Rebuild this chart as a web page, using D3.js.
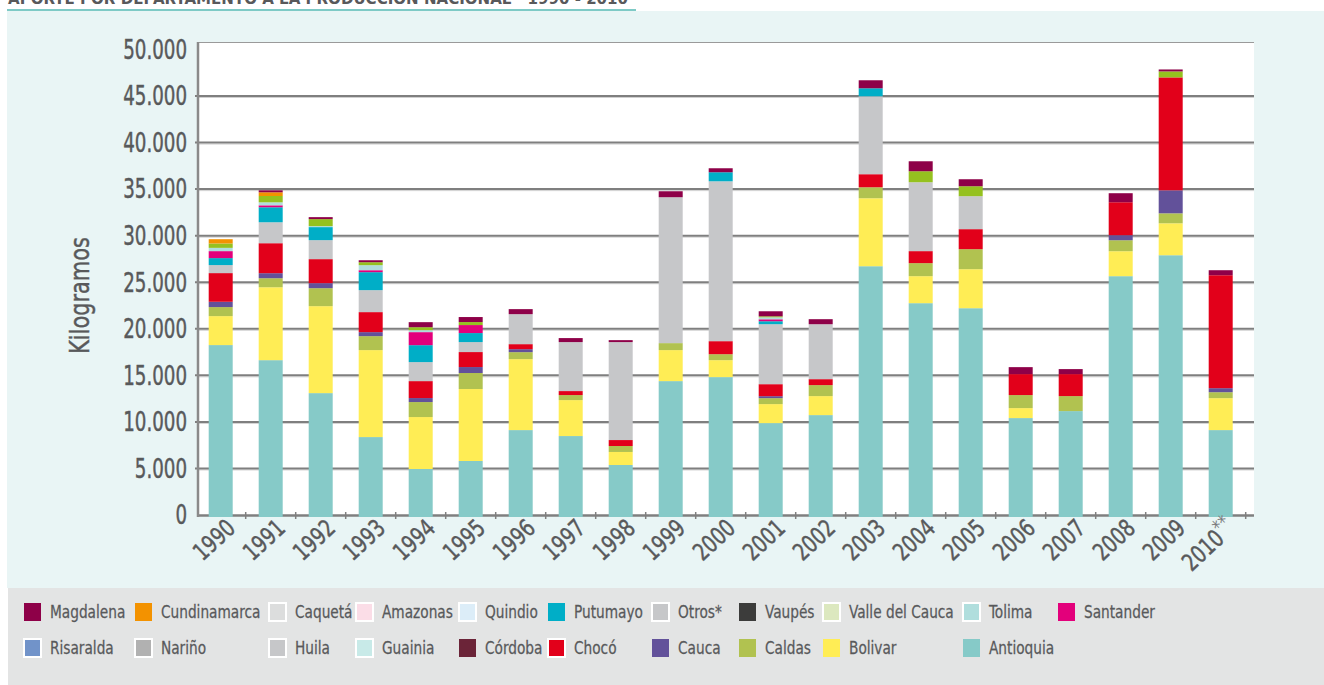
<!DOCTYPE html>
<html><head><meta charset="utf-8">
<script src="https://cdn.jsdelivr.net/npm/d3@7"></script>
<style>
html,body{margin:0;padding:0;background:#fff;}
svg{display:block;}
text{font-family:"Liberation Sans Narrow","DejaVu Sans Condensed","DejaVu Sans",sans-serif;}
.heavy{stroke:#58595b;stroke-width:0.45px;}
</style></head>
<body>
<svg id="chart" width="1324" height="685"></svg>
<script>
// ---------- DATA ----------
const years = ["1990","1991","1992","1993","1994","1995","1996","1997","1998","1999","2000","2001","2002","2003","2004","2005","2006","2007","2008","2009","2010"];
const yearSuffix = ["","","","","","","","","","","","","","","","","","","","","**"];
const yTicks = [0,5000,10000,15000,20000,25000,30000,35000,40000,45000,50000];
const yTickLabels = ["0","5.000","10.000","15.000","20.000","25.000","30.000","35.000","40.000","45.000","50.000"];

// stacking order bottom -> top (kg)
const antioquia    = [18250,16630,13090,8370,4940,5800,9120,8480,5370,14380,14810,9870,10730,26720,22750,22210,10410,11160,25650,27900,9120];
const bolivar      = [3110,7830,9340,9340,5580,7730,7620,3860,1400,3330,1820,2040,2040,7300,2900,4190,1070,0,2680,3430,3430];
const caldas       = [970,970,1930,1500,1610,1720,750,540,640,750,640,640,1180,1180,1400,2150,1400,1610,1180,1070,640];
const cauca        = [570,540,540,430,430,640,320,0,0,0,0,210,0,0,0,0,0,0,540,2470,430];
const choco        = [3080,3220,2580,2150,1820,1610,540,430,640,0,1400,1290,640,1400,1290,2150,2250,2360,3540,12130,12130];
const otros        = [860,2250,2040,2360,2040,1070,3220,5260,10520,15670,17170,6440,5900,8370,7400,3540,0,0,0,0,0];
const putumayo     = [750,1610,1400,1930,1820,970,0,0,0,0,970,320,0,860,0,0,0,0,0,0,0];
const santander    = [750,210,0,210,1400,860,0,0,0,0,0,210,0,0,0,0,0,0,0,0,0];
const tolima       = [350,320,110,540,210,0,0,0,0,0,0,210,0,0,0,0,0,0,0,0,0];
const valleCauca   = [470,680,750,320,320,320,0,0,0,0,0,110,0,0,1180,1070,0,0,0,640,0];
const cundinamarca = [460,400,0,0,0,0,0,0,0,0,0,0,0,0,0,0,0,0,0,0,0];
const magdalena    = [0,210,210,210,540,540,540,430,210,640,430,540,540,860,1070,750,750,540,970,210,540];

const seriesNames  = ["Antioquia","Bolivar","Caldas","Cauca","Chocó","Otros*","Putumayo","Santander","Tolima","Valle del Cauca","Cundinamarca","Magdalena"];
const seriesValues = [antioquia,bolivar,caldas,cauca,choco,otros,putumayo,santander,tolima,valleCauca,cundinamarca,magdalena];
const seriesColors = ["#86cac8","#ffed55","#b1c250","#62519a","#e2001a","#c6c7c9","#00aec7","#e3007b","#b0dedd","#95c11f","#f39200","#8e0048"];

// legend (two rows, as in the original)
const legendRow1 = ["Magdalena","Cundinamarca","Caquetá","Amazonas","Quindio","Putumayo","Otros*","Vaupés","Valle del Cauca","Tolima","Santander"];
const legendRow1Colors = ["#8e0048","#f39200","#dcdddd","#fbdde7","#dcedf8","#00aec7","#c6c7c9","#3c3c3b","#dce8bf","#b0dedd","#e3007b"];
const legendRow1Border = [false,false,true,true,true,false,true,false,true,true,false];
const legendRow2 = ["Risaralda","Nariño","Huila","Guainia","Córdoba","Chocó","Cauca","Caldas","Bolivar","Antioquia"];
const legendRow2Colors = ["#7193c9","#b1b1b1","#c6c7c9","#c8eae8","#6b2438","#e2001a","#62519a","#b1c250","#ffed55","#86cac8"];
const legendRow2Border = [true,true,true,true,false,true,false,false,false,false];

const titleText = "APORTE POR DEPARTAMENTO A LA PRODUCCIÓN NACIONAL · 1990 - 2010";

// ---------- LAYOUT ----------
const svg = d3.select("#chart");
const W = 1324, H = 685;
const plot = {left:198, right:1254, top:42, bottom:515};
const textColor = "#58595b";

// backgrounds
svg.append("rect").attr("x",0).attr("y",0).attr("width",W).attr("height",H).attr("fill","#ffffff");
svg.append("rect").attr("x",7).attr("y",11).attr("width",W-7).attr("height",577).attr("fill","#e9f5f5");
svg.append("rect").attr("x",8).attr("y",588).attr("width",W-8).attr("height",97).attr("fill","#e3e4e4");
svg.append("rect").attr("x",plot.left).attr("y",plot.top).attr("width",plot.right-plot.left).attr("height",plot.bottom-plot.top).attr("fill","#ffffff");

// title (clipped at top of page, as in the original)
svg.append("text").attr("x",8).attr("y",4).attr("font-size",16).attr("font-weight","bold")
  .attr("fill",textColor).attr("textLength",620).attr("lengthAdjust","spacingAndGlyphs").text(titleText);
svg.append("rect").attr("x",7).attr("y",9).attr("width",629).attr("height",2).attr("fill","#7ecac6");

// scales
const x = d3.scaleBand().domain(years).range([195.7,1245.7]).paddingInner(0.52).paddingOuter(0.26);
const y = d3.scaleLinear().domain([0,50800]).range([plot.bottom, plot.top]);

// gridlines
const grid = svg.append("g");
yTicks.filter(t => t>0 && t<50000).forEach(t => {
  grid.append("line").attr("x1",plot.left).attr("x2",plot.right).attr("y1",y(t)+1.5).attr("y2",y(t)+1.5)
    .attr("stroke","#d0d0d0").attr("stroke-width",1);
  grid.append("line").attr("x1",plot.left-3).attr("x2",plot.right).attr("y1",y(t)).attr("y2",y(t))
    .attr("stroke","#7f7f7f").attr("stroke-width",2);
});
// top frame
svg.append("line").attr("x1",plot.left).attr("x2",plot.right).attr("y1",plot.top+0.5).attr("y2",plot.top+0.5)
  .attr("stroke","#9a9a9a").attr("stroke-width",1);

// y axis labels (condensed look)
const yAxisG = svg.append("g");
yTicks.forEach((t,i) => {
  yAxisG.append("text").attr("class","heavy").attr("transform",`translate(187,${y(t)}) scale(0.78,1)`)
    .attr("dy","0.36em").attr("text-anchor","end").attr("font-size",26).attr("fill",textColor).text(yTickLabels[i]);
});
svg.append("text").attr("class","heavy").attr("transform","translate(88.5,295.5) rotate(-90) scale(0.86,1)")
  .attr("text-anchor","middle").attr("font-size",27).attr("fill",textColor).text("Kilogramos");

// x axis line + ticks at band boundaries
svg.append("line").attr("x1",plot.left).attr("x2",plot.right).attr("y1",plot.bottom+0.5).attr("y2",plot.bottom+0.5)
  .attr("stroke","#7f7f7f").attr("stroke-width",2.5);
years.forEach((yr,i) => {
  const bx = x(yr) - x.step()*x.paddingInner()/2 + x.step();
  svg.append("line").attr("x1",bx).attr("x2",bx).attr("y1",plot.bottom-3).attr("y2",plot.bottom+4)
    .attr("stroke","#7f7f7f").attr("stroke-width",1.5);
});
// left axis line
svg.append("line").attr("x1",plot.left).attr("x2",plot.left).attr("y1",plot.top).attr("y2",plot.bottom+2)
  .attr("stroke","#8a8a8a").attr("stroke-width",2.5);

// stacked bars
const table = years.map((yr,i) => {
  const row = {year: yr};
  seriesNames.forEach((n,k) => row[n] = seriesValues[k][i]);
  return row;
});
const stacked = d3.stack().keys(seriesNames)(table);
const bars = svg.append("g");
stacked.forEach((layer,k) => {
  bars.append("g").attr("fill",seriesColors[k])
    .selectAll("rect").data(layer.filter(d => d[1]-d[0] > 0)).join("rect")
    .attr("x", d => x(d.data.year))
    .attr("width", x.bandwidth())
    .attr("y", d => y(d[1]))
    .attr("height", d => (d[0]===0 ? y(d[0])+2 : y(d[0])) - y(d[1]));
});

// x labels
const xl = svg.append("g");
years.forEach((yr,i) => {
  const cx = x(yr) + x.bandwidth()/2;
  const t = xl.append("text").attr("class","heavy").attr("transform",`translate(${cx+16},530) rotate(-43) scale(0.85,1)`)
    .attr("text-anchor","end").attr("font-size",24).attr("fill",textColor);
  t.append("tspan").text(yr);
  if (yearSuffix[i]) {
    t.append("tspan").attr("font-size",20).attr("dy",-8).attr("fill","#7a7b7d").attr("stroke","none").text(yearSuffix[i]);
  }
});

// legend
const legendSwatchX = [24,135,269,356,459,548,652,739,823,963,1058];
function drawLegendRow(names, colors, borders, cy) {
  names.forEach((n,i) => {
    const sx = legendSwatchX[i];
    const r = svg.append("rect").attr("x",sx).attr("y",cy-9).attr("width",17).attr("height",18).attr("fill",colors[i]);
    if (borders[i]) r.attr("stroke","#ffffff").attr("stroke-width",2);
    svg.append("text").attr("transform",`translate(${sx+26},${cy}) scale(0.87,1)`)
      .attr("dy","0.36em").attr("font-size",17.5).attr("fill",textColor)
      .attr("stroke",textColor).attr("stroke-width",0.25).text(n);
  });
}
drawLegendRow(legendRow1, legendRow1Colors, legendRow1Border, 612);
drawLegendRow(legendRow2, legendRow2Colors, legendRow2Border, 648);
</script>
</body></html>
